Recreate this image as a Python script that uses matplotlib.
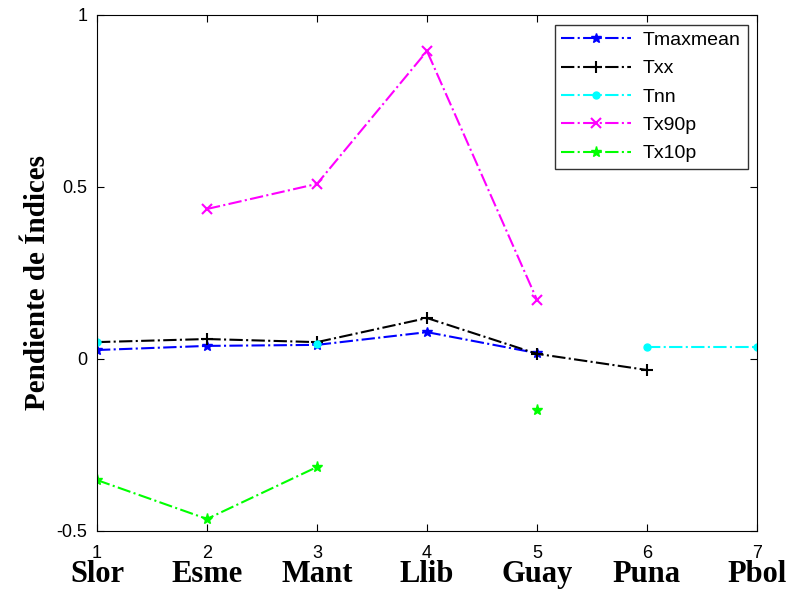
import matplotlib.pyplot as plt
import numpy as np

nan = np.nan
x = [1, 2, 3, 4, 5, 6, 7]
estaciones = ['Slor', 'Esme', 'Mant', 'Llib', 'Guay', 'Puna', 'Pbol']

tmaxmean = [0.026, 0.038, 0.041, 0.078, 0.017, nan, nan]
txx = [0.049, 0.058, 0.049, 0.119, 0.015, -0.032, nan]
tnn = [0.049, nan, 0.043, nan, nan, 0.035, 0.035]
tx90p = [nan, 0.436, 0.509, 0.895, 0.172, nan, nan]
tx10p = [-0.352, -0.465, -0.314, nan, -0.148, nan, nan]

plt.rcParams['font.family'] = ['Liberation Sans', 'DejaVu Sans']

fig = plt.figure(figsize=(7.86, 6.01), dpi=100)
ax = fig.add_axes([0.1234, 0.1165, 0.8397, 0.8586])

ax.plot(x, tmaxmean, '-.', color='#0000ff', marker='*', ms=7, lw=1.5, label='Tmaxmean')
ax.plot(x, txx, '-.', color='k', marker='+', ms=9, mew=1.5, lw=1.5, label='Txx')
ax.plot(x, tnn, '-.', color='#00ffff', marker='o', ms=5, mfc='#00ffff', lw=1.5, label='Tnn')
ax.plot(x, tx90p, '-.', color='#ff00ff', marker='x', ms=7, mew=1.5, lw=1.5, label='Tx90p')
ax.plot(x, tx10p, '-.', color='#00ff00', marker='*', ms=8, lw=1.5, label='Tx10p')

ax.set_xlim(1, 7)
ax.set_ylim(-0.5, 1)
ax.set_xticks(x)
ax.set_yticks([-0.5, 0, 0.5, 1])
ax.set_yticklabels(['-0.5', '0', '0.5', '1'])
ax.tick_params(direction='in', labelsize=13, top=True, right=True, length=5)
ax.tick_params(axis='x', pad=10)
ax.tick_params(axis='y', pad=7)

for xi, name in zip(x, estaciones):
    ax.text(xi, -0.085, name, transform=ax.get_xaxis_transform(), ha='center', va='center',
            fontsize=22, fontweight='bold', family='Liberation Serif')

fig.text(38 / 786, 0.53, 'Pendiente de Índices', rotation=90, ha='center', va='center',
         fontsize=21, fontweight='bold', family='Liberation Serif')

leg = ax.legend(loc='upper right', bbox_to_anchor=(0.986, 0.981), borderaxespad=0,
                fontsize=14, fancybox=False, edgecolor='k', handlelength=3.6,
                borderpad=0.35, labelspacing=0.55, handletextpad=0.6)
leg.get_frame().set_linewidth(1.0)

fig.savefig('out.png', dpi=100)
